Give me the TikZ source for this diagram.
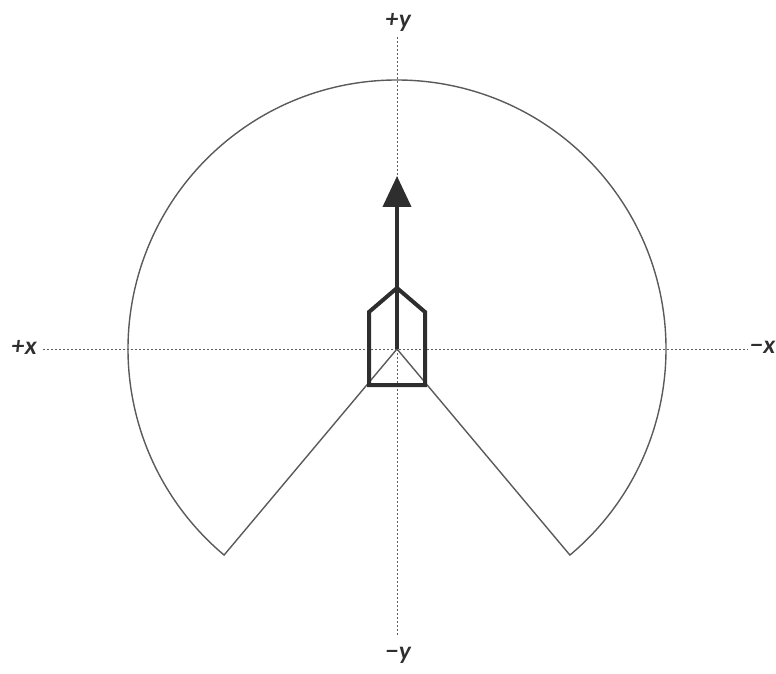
\documentclass[tikz,border=0pt]{standalone}
\usepackage{fontspec}
\setmainfont{Lato}
\usetikzlibrary{arrows.meta}
\definecolor{axisgray}{HTML}{5E5E5E}
\definecolor{arcgray}{HTML}{5A5A5A}
\definecolor{boatdark}{HTML}{2E2E2E}
\tikzset{
  axisline/.style={axisgray, line width=0.9pt, dash pattern=on 2pt off 2pt},
  rangeline/.style={arcgray, line width=1.4pt},
  boatline/.style={boatdark, line width=4pt, line join=miter},
  headarrow/.style={boatdark, line width=4pt, -{Triangle[width=28pt,length=31pt]}},
  axislabel/.style={text=boatdark, font=\fontsize{24}{28}\selectfont\bfseries\itshape, inner sep=0pt}
}
\begin{document}
\begin{tikzpicture}[x=1pt,y=1pt]
\useasboundingbox (0,0) rectangle (776,673);
% labels
\node[axislabel] (py) at (398,651) {+y};
\node[axislabel] (my) at (398,18) {−y};
\node[axislabel] (px) at (24,326) {+x};
\node[axislabel, anchor=east] (mx) at (775.5,326) {−x};
% axes
\coordinate (C) at (397,324);
\coordinate (ytop) at (397,636);
\coordinate (ybot) at (397,36);
\coordinate (xleft) at (43,324);
\coordinate (xright) at (748,324);
\draw[axisline] (ytop) -- (ybot);
\draw[axisline] (xleft) -- (xright);
% range wedge
\draw[rangeline, line join=miter] (C) -- ++(-50:269) arc[start angle=-50, end angle=230, radius=269] -- cycle;
% boat
\coordinate (b1) at (369,288);
\coordinate (b2) at (369,361);
\coordinate (b3) at (397,385);
\coordinate (b4) at (425,361);
\coordinate (b5) at (425,288);
\draw[boatline] (b1) -- (b2) -- (b3) -- (b4) -- (b5) -- cycle;
% heading
\coordinate (tip) at (397,497);
\draw[headarrow] (C) -- (tip);
\end{tikzpicture}
\end{document}
